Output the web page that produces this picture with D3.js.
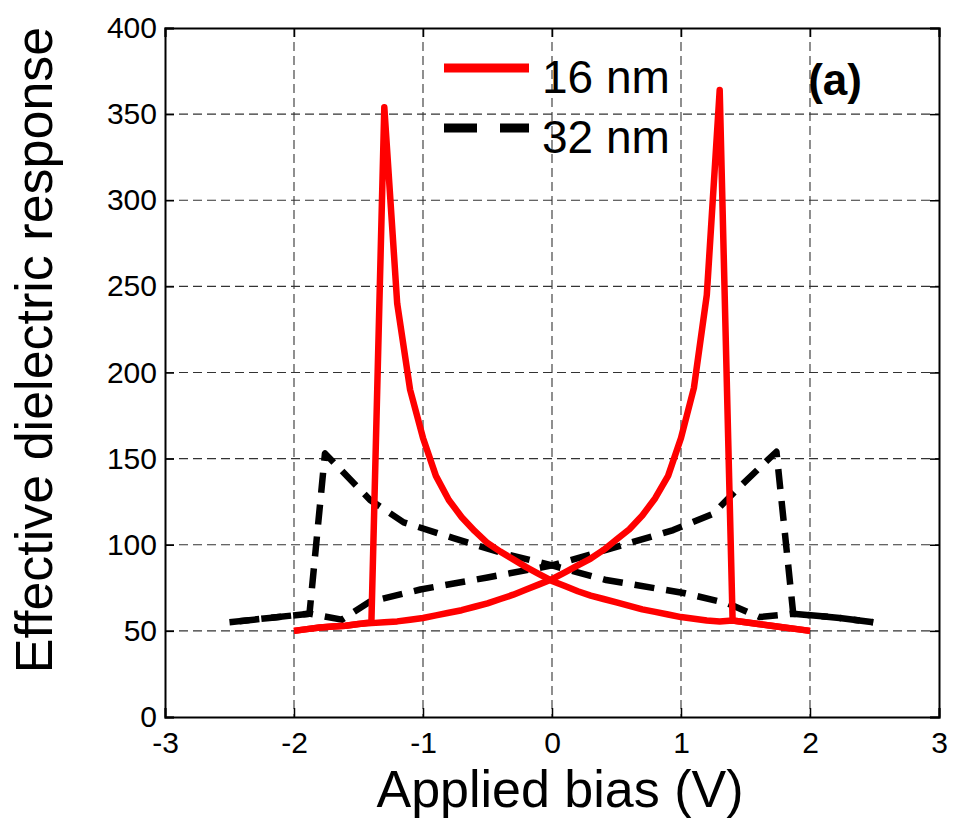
<!DOCTYPE html>
<html>
    <head>
        <meta charset="UTF-8"/>
        <style>
            body { margin: 0; background: #fff; }
            text { font-family: "Liberation Sans", Arial, sans-serif; }
        </style>
    </head>
    <body>
        <script src="https://d3js.org/d3.v7.min.js" type="text/javascript"></script>
        <script>
        let width = 953;
        let height = 825;
        let plotLeft = 165, plotRight = 939, plotTop = 28, plotBottom = 717;

        // 16 nm, bias swept up (-2 -> 2), step 0.1
        let red16UpX = [-2.0, -1.9, -1.8, -1.7, -1.6, -1.5, -1.4, -1.3, -1.2, -1.1, -1.0, -0.9, -0.8, -0.7, -0.6, -0.5, -0.4, -0.3, -0.2, -0.1, 0.0,
                        0.1, 0.2, 0.3, 0.4, 0.5, 0.6, 0.7, 0.8, 0.9, 1.0, 1.1, 1.2, 1.3, 1.4, 1.5, 1.6, 1.7, 1.8, 1.9, 2.0];
        let red16UpY = [50, 51, 52, 52.5, 53, 54, 54.5, 55, 55.5, 56.5, 57.5, 59, 60.5, 62, 64, 66, 68.5, 71, 74, 77, 80,
                        84, 88, 92, 97, 103, 109, 117, 127, 140, 162, 191, 245, 364, 56, 55, 54, 53, 52, 51, 50];
        // 16 nm, bias swept down (2 -> -2)
        let red16DownX = [2.0, 1.9, 1.8, 1.7, 1.6, 1.5, 1.4, 1.3, 1.2, 1.1, 1.0, 0.9, 0.8, 0.7, 0.6, 0.5, 0.4, 0.3, 0.2, 0.1, 0.0,
                          -0.1, -0.2, -0.3, -0.4, -0.5, -0.6, -0.7, -0.8, -0.9, -1.0, -1.1, -1.2, -1.3, -1.4, -1.5, -1.6, -1.7, -1.8, -1.9, -2.0];
        let red16DownY = [50, 51, 52, 53, 54, 55, 56, 55.5, 56, 57, 58, 59.5, 61, 62.5, 64.5, 66.5, 68.5, 70.5, 73, 76, 79,
                          83, 87, 91.5, 96, 101, 108, 116, 126, 140, 162, 190, 240, 354, 55, 54, 53, 52.5, 52, 51, 50];

        // 32 nm
        let black32UpX = [-2.5, -2.19, -1.88, -1.63, -1.41, -1.02, -0.5, 0.0, 0.42, 0.94, 1.25, 1.46, 1.74, 1.87, 2.23, 2.49];
        let black32UpY = [55, 57.5, 60, 56.5, 67, 74, 81, 88, 97, 108.5, 118, 134, 154, 60, 57.5, 55];
        let black32DownX = [2.49, 2.23, 1.87, 1.61, 1.36, 1.02, 0.42, 0.0, -0.38, -0.77, -1.15, -1.41, -1.76, -1.88, -2.19, -2.5];
        let black32DownY = [55, 57.5, 60, 58, 66, 72, 79.5, 88, 95, 104, 113, 126, 153, 60, 57.5, 55];

        let xTicks = [-3, -2, -1, 0, 1, 2, 3];
        let yTicks = [0, 50, 100, 150, 200, 250, 300, 350, 400];
        let seriesNames = ["16 nm", "32 nm"];

        let x = d3.scaleLinear().domain([-3, 3]).range([plotLeft, plotRight]);
        let y = d3.scaleLinear().domain([0, 400]).range([plotBottom, plotTop]);

        let svg = d3.select("body")
            .append("svg")
            .attr("width", width)
            .attr("height", height);

        // grid
        let grid = svg.append("g")
            .attr("stroke", "#333")
            .attr("stroke-width", 1.1)
            .attr("stroke-dasharray", "9,5");
        grid.selectAll("line.vx")
            .data(xTicks.slice(1, -1))
            .enter()
            .append("line")
            .attr("x1", d => x(d)).attr("x2", d => x(d))
            .attr("y1", plotTop).attr("y2", plotBottom);
        grid.selectAll("line.hy")
            .data(yTicks.slice(1, -1))
            .enter()
            .append("line")
            .attr("x1", plotLeft).attr("x2", plotRight)
            .attr("y1", d => y(d)).attr("y2", d => y(d));

        let line = d3.line().x(d => x(d[0])).y(d => y(d[1]));
        let zip = (xs, ys) => xs.map((v, i) => [v, ys[i]]);

        let series = [
            {pts: zip(black32UpX, black32UpY), color: "#000", dash: "20,12"},
            {pts: zip(black32DownX, black32DownY), color: "#000", dash: "20,12"},
            {pts: zip(red16UpX, red16UpY), color: "#ff0000", dash: null},
            {pts: zip(red16DownX, red16DownY), color: "#ff0000", dash: null}
        ];
        svg.selectAll("path.curve")
            .data(series)
            .enter()
            .append("path")
            .attr("class", "curve")
            .attr("d", d => line(d.pts))
            .attr("fill", "none")
            .attr("stroke", d => d.color)
            .attr("stroke-width", 6.5)
            .attr("stroke-linejoin", "round")
            .attr("stroke-dasharray", d => d.dash);

        // axes, ticks pointing inward; plain hyphen for negatives
        let fmt = d => String(d);
        let gx = svg.append("g")
            .attr("transform", "translate(0," + plotBottom + ")")
            .call(d3.axisBottom(x).tickValues(xTicks).tickFormat(fmt).tickSize(-9).tickPadding(15));
        let gy = svg.append("g")
            .attr("transform", "translate(" + plotLeft + ",0)")
            .call(d3.axisLeft(y).tickValues(yTicks).tickFormat(fmt).tickSize(-9).tickPadding(8));
        svg.append("g")
            .attr("transform", "translate(0," + plotTop + ")")
            .call(d3.axisTop(x).tickValues(xTicks).tickFormat("").tickSize(-9));
        svg.append("g")
            .attr("transform", "translate(" + plotRight + ",0)")
            .call(d3.axisRight(y).tickValues(yTicks).tickFormat("").tickSize(-9));
        svg.selectAll(".domain").attr("stroke", "#000").attr("stroke-width", 2);
        svg.selectAll(".tick line").attr("stroke", "#000").attr("stroke-width", 1.5);
        svg.selectAll(".tick text")
            .attr("fill", "#000")
            .attr("font-size", "30px")
            .attr("font-family", "'Liberation Sans', Arial, sans-serif");
        gx.selectAll(".tick text").attr("dy", "0.71em");

        // axis titles
        svg.append("text")
            .attr("x", 560)
            .attr("y", 807)
            .attr("text-anchor", "middle")
            .attr("font-size", "52px")
            .text("Applied bias (V)");
        svg.append("text")
            .attr("transform", "translate(52,350) rotate(-90)")
            .attr("text-anchor", "middle")
            .attr("font-size", "52px")
            .text("Effective dielectric response");

        // legend
        let legend = [
            {name: seriesNames[0], color: "#ff0000", dash: null, y: 68},
            {name: seriesNames[1], color: "#000", dash: "33,23", y: 128}
        ];
        let lg = svg.selectAll("g.legend")
            .data(legend)
            .enter()
            .append("g");
        lg.append("line")
            .attr("x1", 444).attr("x2", 529)
            .attr("y1", d => d.y).attr("y2", d => d.y)
            .attr("stroke", d => d.color)
            .attr("stroke-width", 9)
            .attr("stroke-dasharray", d => d.dash);
        lg.append("text")
            .attr("x", 542)
            .attr("y", d => d.y + 25)
            .attr("font-size", "46px")
            .text(d => d.name);

        svg.append("text")
            .attr("x", 862)
            .attr("y", 95)
            .attr("text-anchor", "end")
            .attr("font-size", "44px")
            .attr("font-weight", "bold")
            .text("(a)");
        </script>
    </body>
</html>
